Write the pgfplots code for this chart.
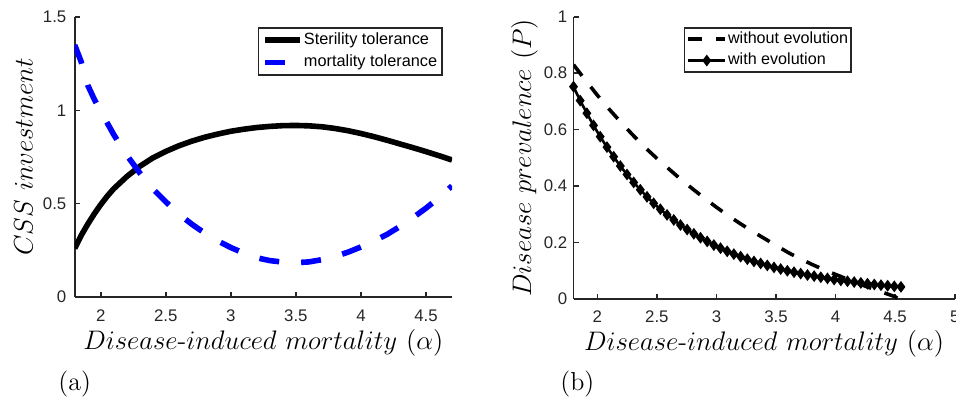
\RequirePackage{fix-cm}
\documentclass[border=0pt]{standalone}
\usepackage{fontspec}
\usepackage{pgfplots}
\pgfplotsset{compat=1.18}
\newfontfamily\arial{Liberation Sans}
\definecolor{mgray}{gray}{0.15}
\begin{document}
\begin{tikzpicture}
\pgfplotsset{
  mystyle/.style={
    scale only axis,
    axis x line*=bottom, axis y line*=left,
    axis line style={mgray, line width=0.8pt},
    tick align=inside,
    major tick length=2.5pt,
    tick style={mgray, line width=0.8pt},
    tick label style={font=\arial\fontsize{8.4}{10}\selectfont, text=mgray},
    /pgf/number format/assume math mode=true,
    label style={font=\fontsize{13.4}{16}\selectfont},
    legend cell align=left,
    clip=true,
  }
}
% ---------------- panel (a) ----------------
\begin{axis}[mystyle,
  at={(37.35pt,50.5pt)}, anchor=south west,
  width=188.65pt, height=140pt,
  xmin=1.8, xmax=4.7, ymin=0, ymax=1.5,
  xtick={2,2.5,3,3.5,4,4.5}, ytick={0,0.5,1,1.5},
  xticklabel style={anchor=north, inner sep=0pt, yshift=-6.3pt},
  yticklabel style={anchor=east, inner sep=0pt, xshift=-4pt},
  xlabel={$Disease\mbox{-}induced\ mortality\ (\alpha)$},
  ylabel={$CSS\ investment$},
  xlabel style={at={(axis description cs:0.5,-0.189)}, anchor=base},
  ylabel style={at={(axis description cs:-0.1114,0.5)}, anchor=base},
  legend style={at={(axis description cs:0.976,0.964)}, anchor=north east,
    font=\arial\fontsize{8.15}{9.5}\selectfont, draw=mgray, line width=0.8pt,
    inner xsep=2pt, inner ysep=0.5pt,
    nodes={inner xsep=0.5pt, inner ysep=1.9pt, text depth=0.15em}},
  legend image code/.code={\draw[mark repeat=2,mark phase=2,#1] plot coordinates {(0pt,0pt) (8.75pt,0pt) (17.5pt,0pt)};},
]
\addplot[black, line width=2.8pt, line join=round] coordinates {
(1.80,0.26) (1.85,0.33) (1.90,0.39) (1.95,0.445) (2.00,0.495) (2.05,0.54) (2.10,0.58)
(2.20,0.645) (2.30,0.70) (2.40,0.745) (2.50,0.78) (2.60,0.81) (2.70,0.835)
(2.80,0.856) (2.90,0.873) (3.00,0.888) (3.10,0.899) (3.20,0.908) (3.30,0.914)
(3.40,0.918) (3.50,0.919) (3.60,0.917) (3.70,0.912) (3.80,0.903) (3.90,0.891)
(4.00,0.876) (4.10,0.859) (4.20,0.84) (4.30,0.82) (4.40,0.80) (4.50,0.779)
(4.60,0.757) (4.70,0.734)
};
\addlegendentry{Sterility tolerance}
\addplot[blue, line width=2.8pt, dash pattern=on 10pt off 11pt, line join=round] coordinates {
(1.80,1.35) (1.85,1.26) (1.90,1.135) (1.95,1.06) (2.00,0.995) (2.10,0.87) (2.20,0.76)
(2.30,0.665) (2.40,0.58) (2.50,0.51) (2.60,0.445) (2.70,0.39) (2.80,0.342)
(2.90,0.30) (3.00,0.265) (3.10,0.235) (3.20,0.21) (3.30,0.195) (3.40,0.187)
(3.50,0.184) (3.60,0.188) (3.70,0.20) (3.80,0.217) (3.90,0.24) (4.00,0.268)
(4.10,0.30) (4.20,0.335) (4.30,0.378) (4.40,0.425) (4.50,0.476) (4.60,0.532) (4.70,0.595)
};
\addlegendentry{mortality tolerance}
\end{axis}
% ---------------- panel (b) ----------------
\begin{axis}[mystyle,
  at={(286.75pt,49.5pt)}, anchor=south west,
  width=190.6pt, height=141.15pt,
  xmin=1.8, xmax=5, ymin=0, ymax=1,
  xtick={2,2.5,3,3.5,4,4.5,5}, ytick={0,0.2,0.4,0.6,0.8,1},
  xticklabel style={anchor=north, inner sep=0pt, yshift=-5.6pt},
  yticklabel style={anchor=east, inner sep=0pt, xshift=-3pt},
  xlabel={$Disease\mbox{-}induced\ mortality\ (\alpha)$},
  ylabel={$Disease\ prevalence\ (P)$},
  xlabel style={at={(axis description cs:0.5,-0.1807)}, anchor=base},
  ylabel style={at={(axis description cs:-0.1115,0.5)}, anchor=base},
  legend style={at={(axis description cs:0.289,0.9635)}, anchor=north west,
    font=\arial\fontsize{8.06}{9.5}\selectfont, draw=mgray, line width=0.8pt,
    inner xsep=1pt, inner ysep=0.25pt,
    nodes={inner xsep=0.5pt, inner ysep=1.7pt, text depth=0.15em}},
  legend image code/.code={\draw[mark repeat=2,mark phase=2,#1] plot coordinates {(0pt,0pt) (9.25pt,0pt) (18.5pt,0pt)};},
]
\addplot[black, line width=1.8pt, dash pattern=on 7pt off 7pt, line join=round] coordinates {
(1.80,0.83) (1.90,0.775) (2.00,0.722) (2.10,0.672) (2.20,0.625) (2.30,0.58)
(2.40,0.537) (2.50,0.498) (2.60,0.461) (2.70,0.424) (2.80,0.39) (2.90,0.357)
(3.00,0.325) (3.10,0.295) (3.20,0.267) (3.30,0.24) (3.40,0.215) (3.50,0.19)
(3.60,0.165) (3.70,0.143) (3.80,0.123) (3.90,0.104) (4.00,0.087) (4.10,0.07)
(4.20,0.053) (4.30,0.038) (4.40,0.023) (4.50,0.008) (4.53,0.0)
};
\addlegendentry{without evolution}
\addplot[black, line width=1.3pt, mark=diamond*, mark size=1.9pt, mark options={solid, fill=black}] coordinates {
(1.800,0.752) (1.856,0.703) (1.912,0.658) (1.968,0.615) (2.024,0.575) (2.081,0.538)
(2.137,0.504) (2.193,0.471) (2.249,0.441) (2.305,0.413) (2.361,0.387) (2.417,0.362)
(2.473,0.339) (2.529,0.318) (2.585,0.298) (2.642,0.280) (2.698,0.262) (2.754,0.246)
(2.810,0.231) (2.866,0.217) (2.922,0.204) (2.978,0.191) (3.034,0.180) (3.090,0.169)
(3.146,0.159) (3.203,0.150) (3.259,0.141) (3.315,0.133) (3.371,0.126) (3.427,0.119)
(3.483,0.112) (3.539,0.106) (3.595,0.100) (3.651,0.095) (3.707,0.090) (3.764,0.085)
(3.820,0.081) (3.876,0.077) (3.932,0.073) (3.988,0.069) (4.044,0.066) (4.100,0.063)
(4.156,0.060) (4.212,0.057) (4.268,0.054) (4.325,0.0515) (4.381,0.049) (4.437,0.047)
(4.493,0.045) (4.549,0.043)
};
\addlegendentry{with evolution}
\end{axis}
\node[anchor=base west, inner sep=0pt, font=\fontsize{13}{15}\selectfont] at (29pt,3.6pt) {(a)};
\node[anchor=base west, inner sep=0pt, font=\fontsize{13}{15}\selectfont] at (280pt,3.6pt) {(b)};
\pgfresetboundingbox
\path (0pt,0pt) rectangle (478pt,199pt);
\end{tikzpicture}
\end{document}
